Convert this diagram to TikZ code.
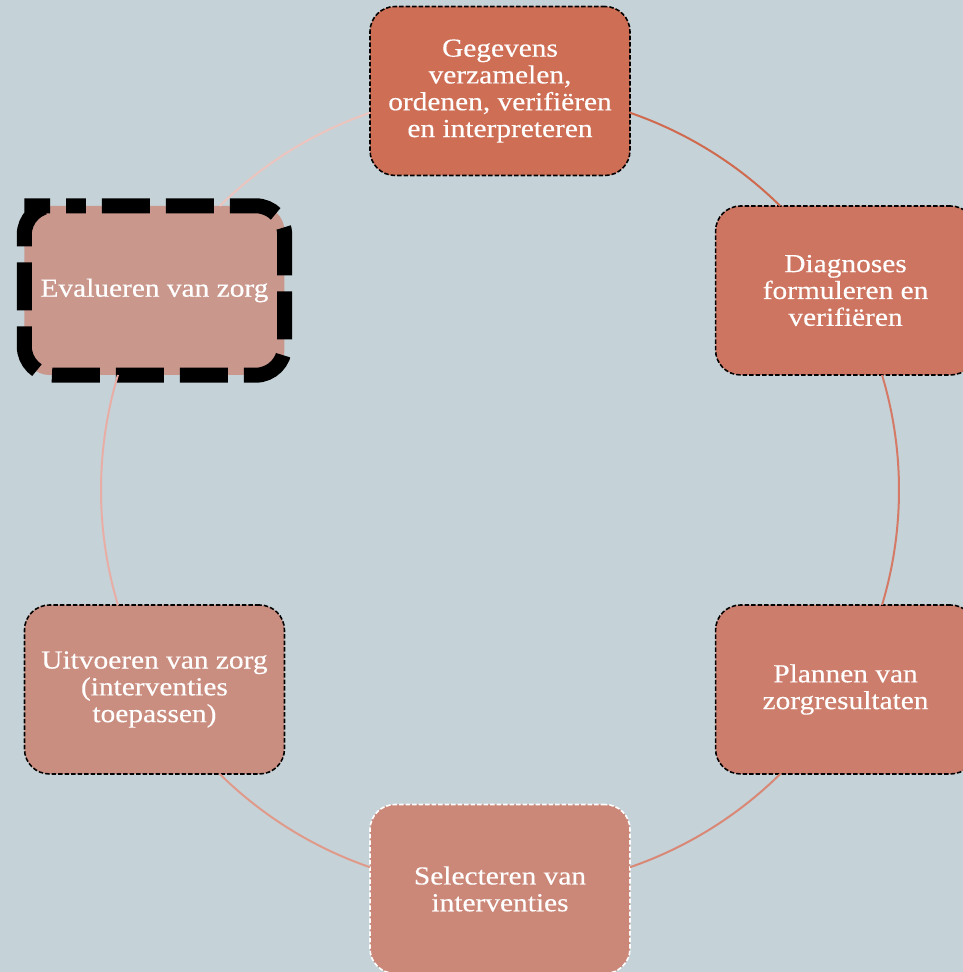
\documentclass[tikz,border=0pt]{standalone}
\usepackage{fontspec}
\setmainfont{Liberation Serif}[FakeStretch=1.13, FakeBold=0.35]
\usetikzlibrary{calc}
\definecolor{bg}{HTML}{C5D2D8}
\definecolor{fA}{HTML}{CD6E55}
\definecolor{fB}{HTML}{CD7560}
\definecolor{fC}{HTML}{CC7D6C}
\definecolor{fD}{HTML}{CB8778}
\definecolor{fE}{HTML}{CA8E80}
\definecolor{fF}{HTML}{C9978C}
\definecolor{aA}{HTML}{D06A4F}
\definecolor{aB}{HTML}{D47A66}
\definecolor{aC}{HTML}{D98876}
\definecolor{aD}{HTML}{E09A8A}
\definecolor{aE}{HTML}{E8AEA6}
\definecolor{aF}{HTML}{EDC4BE}
\tikzset{
  stage/.style={rectangle, rounded corners=25pt, minimum width=260pt,
    minimum height=169pt, inner sep=0pt, text=white, align=center,
    font=\fontsize{26}{26.8}\selectfont},
  thindash/.style={preaction={draw=white, line width=1.6pt},
    draw=black, line width=1.6pt, dash pattern=on 4.5pt off 2pt},
  whitedash/.style={draw=white, line width=1.6pt, dash pattern=on 4.5pt off 2pt},
  ring/.style={line width=2pt},
  bolddash/.style={draw=black, line width=15pt, dash pattern=on 48pt off 16pt,
    dash phase=44.5pt, rounded corners=29pt},
}
\begin{document}
\begin{tikzpicture}[x=1pt, y=1pt]
  \useasboundingbox (0,0) rectangle (963,972);
  \clip (0,0) rectangle (963,972);
  \fill[bg] (0,0) rectangle (963,972);
  \coordinate (c) at (500,482);

  % the six stages, clockwise from the top
  \node[stage, fill=fA, thindash] (s1) at ($(c)+(90:399pt)$)
    {Gegevens\\verzamelen,\\ordenen, verifiëren\\en interpreteren};
  \node[stage, fill=fB, thindash] (s2) at ($(c)+(30:399pt)$)
    {Diagnoses\\formuleren en\\verifiëren};
  \node[stage, fill=fC, thindash] (s3) at ($(c)+(-30:399pt)$)
    {Plannen van\\zorgresultaten};
  \node[stage, fill=fD, whitedash] (s4) at ($(c)+(-90:399pt)$)
    {Selecteren van\\interventies};
  \node[stage, fill=fE, thindash] (s5) at ($(c)+(210:399pt)$)
    {Uitvoeren van zorg\\(interventies\\toepassen)};
  \node[stage, fill=fF] (s6) at ($(c)+(150:399pt)$)
    {Evalueren van zorg};

  % heavy dashed frame round the current stage
  \draw[bolddash] ($(s6.north west)+(29,0)$) -- (s6.north east)
    -- (s6.south east) -- (s6.south west) -- (s6.north west) -- cycle;

  % ring segments joining the stages
  \draw[ring, aA] ($(c)+(70.99:399pt)$) arc[start angle=70.99, end angle=45.38, radius=399pt];
  \draw[ring, aB] ($(c)+(16.75:399pt)$) arc[start angle=16.75, end angle=-16.75, radius=399pt];
  \draw[ring, aC] ($(c)+(-45.38:399pt)$) arc[start angle=-45.38, end angle=-70.99, radius=399pt];
  \draw[ring, aD] ($(c)+(-109.01:399pt)$) arc[start angle=-109.01, end angle=-134.62, radius=399pt];
  \draw[ring, aE] ($(c)+(196.75:399pt)$) arc[start angle=196.75, end angle=163.25, radius=399pt];
  \draw[ring, aF] ($(c)+(134.62:399pt)$) arc[start angle=134.62, end angle=109.01, radius=399pt];
\end{tikzpicture}
\end{document}
